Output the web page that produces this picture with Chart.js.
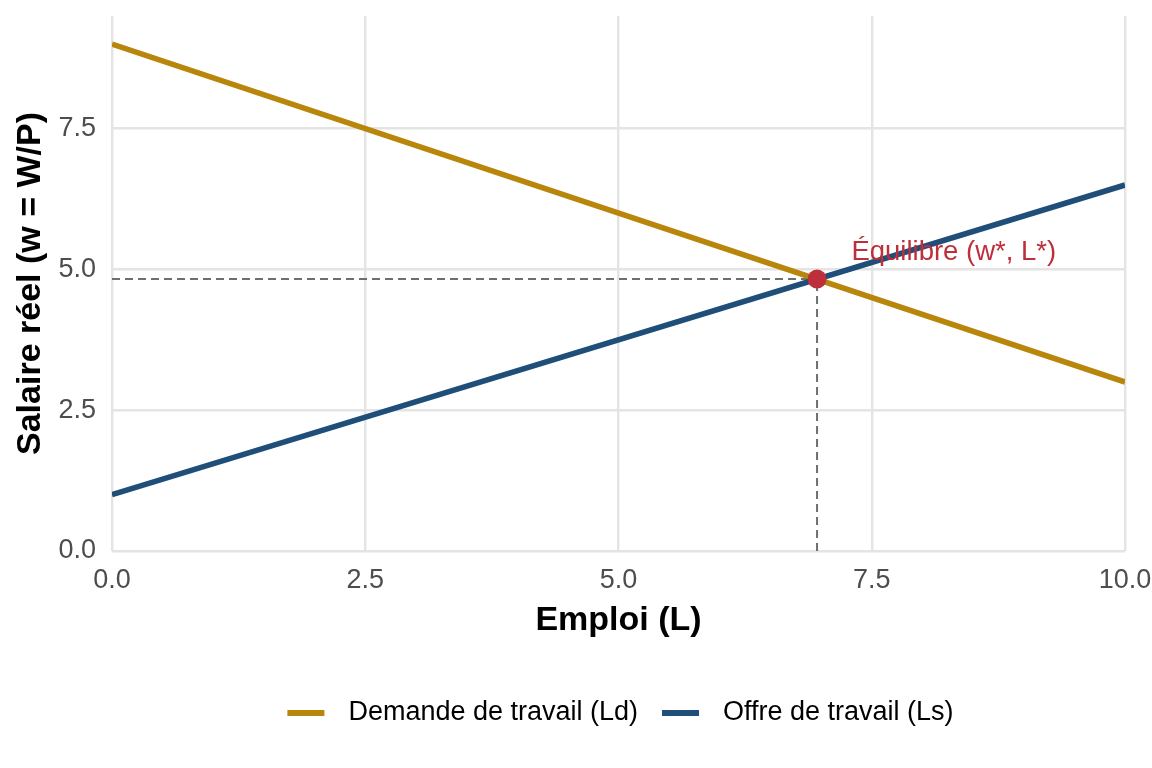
<!DOCTYPE html>
<html>
<head>
<meta charset="utf-8">
<script src="https://cdn.jsdelivr.net/npm/chart.js@4.4.1/dist/chart.umd.min.js"></script>
<style>
  html, body { margin: 0; padding: 0; background: #fff; }
  #wrap { width: 1152px; height: 768px; }
</style>
</head>
<body>
<div id="wrap"><canvas id="graphe"></canvas></div>
<script>
// Données
const emploi = [0, 10];
const demande = [9, 3];
const offre = [1, 6.5];
const equilibreL = 6.96;
const equilibreW = 4.83;
const etiquetteL = 8.31;
const etiquetteW = 5.3;
const ticksX = [0, 2.5, 5, 7.5, 10];
const ticksY = [0, 2.5, 5, 7.5];

const couleurDemande = '#B8860B';
const couleurOffre = '#1F4E79';
const couleurEquilibre = '#BE2F3C';
const police = "'Liberation Sans', Arial, sans-serif";

const pts = (xs, ys) => xs.map((x, i) => ({ x, y: ys[i] }));

// Étiquette du point d'équilibre
const etiquettePlugin = {
  id: 'etiquette',
  afterDatasetsDraw(chart) {
    const { ctx, scales } = chart;
    ctx.save();
    ctx.font = `27.5px ${police}`;
    ctx.fillStyle = couleurEquilibre;
    ctx.textAlign = 'center';
    ctx.textBaseline = 'middle';
    ctx.fillText('Équilibre (w*, L*)', scales.x.getPixelForValue(etiquetteL), scales.y.getPixelForValue(etiquetteW));
    ctx.restore();
  }
};

// Légende en bas, centrée sous la zone du graphique
const legendePlugin = {
  id: 'legendeBas',
  afterDraw(chart) {
    const { ctx, chartArea } = chart;
    const items = chart.data.datasets.slice(0, 2);
    const cle = 37, ecartTexte = 24, ecartItem = 24, y = 713;
    ctx.save();
    ctx.font = `27px ${police}`;
    ctx.textBaseline = 'middle';
    const largeurs = items.map(d => cle + ecartTexte + ctx.measureText(d.label).width);
    const total = largeurs.reduce((a, b) => a + b, 0) + ecartItem * (items.length - 1);
    let x = (chartArea.left + chartArea.right) / 2 - total / 2 + 2;
    items.forEach((d, i) => {
      ctx.fillStyle = d.borderColor;
      ctx.fillRect(x, y - 3, cle, 6);
      ctx.fillStyle = '#000';
      ctx.fillText(d.label, x + cle + ecartTexte, y);
      x += largeurs[i] + ecartItem;
    });
    ctx.restore();
  }
};

new Chart(document.getElementById('graphe'), {
  type: 'line',
  data: {
    datasets: [
      { label: 'Demande de travail (Ld)', data: pts(emploi, demande), borderColor: couleurDemande, backgroundColor: couleurDemande, borderWidth: 5.6, pointRadius: 0, order: 2 },
      { label: 'Offre de travail (Ls)', data: pts(emploi, offre), borderColor: couleurOffre, backgroundColor: couleurOffre, borderWidth: 5.6, pointRadius: 0, order: 1 },
      { label: 'h', data: pts([0, equilibreL], [equilibreW, equilibreW]), borderColor: '#6E6E6E', borderWidth: 2, borderDash: [8, 5], pointRadius: 0, order: 3 },
      { label: 'v', data: pts([equilibreL, equilibreL], [0, equilibreW]), borderColor: '#6E6E6E', borderWidth: 2, borderDash: [8, 5], pointRadius: 0, order: 3 },
      { label: 'eq', data: pts([equilibreL], [equilibreW]), showLine: false, pointRadius: 9.5, pointBackgroundColor: couleurEquilibre, pointBorderWidth: 0, order: 0 }
    ]
  },
  options: {
    responsive: true,
    maintainAspectRatio: false,
    animation: false,
    layout: { padding: { top: 16, right: 27, bottom: 126.6, left: 10 } },
    plugins: {
      tooltip: { enabled: false },
      legend: { display: false }
    },
    scales: {
      x: {
        type: 'linear', min: 0, max: 10,
        afterBuildTicks: axis => { axis.ticks = ticksX.map(v => ({ value: v })); },
        afterFit: axis => { axis.height = 90.4; axis.paddingLeft = 0; axis.paddingRight = 0; },
        grid: { color: '#E4E4E4', lineWidth: 2.4, drawTicks: false },
        border: { display: false },
        ticks: { font: { family: police, size: 27 }, color: '#4D4D4D', padding: 13, callback: v => v.toFixed(1), maxRotation: 0 },
        title: { display: true, text: 'Emploi (L)', font: { family: police, size: 34, weight: 'bold' }, color: '#000', padding: 0 }
      },
      y: {
        type: 'linear', min: 0, max: 9.5,
        afterBuildTicks: axis => { axis.ticks = ticksY.map(v => ({ value: v })); },
        afterFit: axis => { axis.width = 102; axis.paddingTop = 0; axis.paddingBottom = 0; },
        grid: { color: '#E4E4E4', lineWidth: 2.4, drawTicks: false },
        border: { display: false },
        ticks: { font: { family: police, size: 27 }, color: '#4D4D4D', padding: 16, callback: v => v.toFixed(1) },
        title: { display: true, text: 'Salaire réel (w = W/P)', font: { family: police, size: 34, weight: 'bold' }, color: '#000', padding: 0 }
      }
    }
  },
  plugins: [etiquettePlugin, legendePlugin]
});
</script>
</body>
</html>
